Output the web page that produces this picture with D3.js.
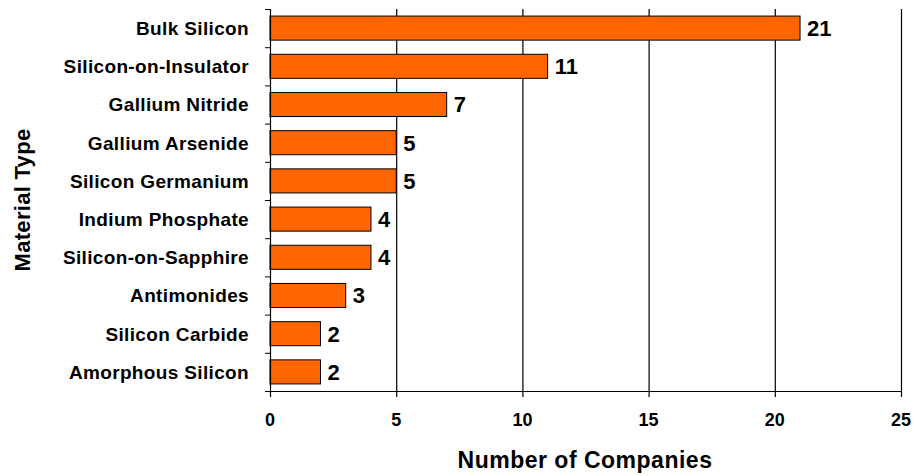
<!DOCTYPE html>
<html><head><meta charset="utf-8">
<script src="https://cdn.jsdelivr.net/npm/d3@7"></script>
<style>body{margin:0;background:#fff}svg{display:block}text{font-family:"Liberation Sans",Arial,sans-serif;font-weight:bold;fill:#000}</style>
</head><body>
<svg id="c" width="914" height="476"></svg>
<script>
const categories = ["Bulk Silicon","Silicon-on-Insulator","Gallium Nitride","Gallium Arsenide","Silicon Germanium","Indium Phosphate","Silicon-on-Sapphire","Antimonides","Silicon Carbide","Amorphous Silicon"];
const values = [21,11,7,5,5,4,4,3,2,2];
const xTicks = [0,5,10,15,20,25];

const svg = d3.select("#c");
const L = 270, R = 901, T = 9, B = 391;
const x = d3.scaleLinear().domain([0,25]).range([L,R]);
const y = d3.scaleBand().domain(categories).range([T,B]).paddingInner(0.37).paddingOuter(0.185);

// gridlines
svg.append("g").selectAll("line").data(xTicks.slice(1)).join("line")
  .attr("x1",d=>x(d)+0.5).attr("x2",d=>x(d)+0.5).attr("y1",T).attr("y2",B)
  .attr("stroke","#000").attr("stroke-width",1.2);

// bars
svg.append("g").selectAll("rect").data(values).join("rect")
  .attr("x",x(0)).attr("y",(d,i)=>y(categories[i]))
  .attr("width",d=>x(d)-x(0)).attr("height",y.bandwidth())
  .attr("fill","#FF6600").attr("stroke","#000").attr("stroke-width",1);

// value labels
svg.append("g").selectAll("text").data(values).join("text")
  .attr("x",d=>x(d)+7).attr("y",(d,i)=>y(categories[i])+y.bandwidth()/2)
  .attr("dy","0.36em").attr("font-size",22).text(d=>d);

// y axis
const yb = d3.scaleLinear().domain([0,categories.length]).range([T,B]);
const ya = svg.append("g");
ya.append("line").attr("x1",L+0.5).attr("x2",L+0.5).attr("y1",T).attr("y2",B).attr("stroke","#000").attr("stroke-width",1.2);
ya.selectAll("line.t").data(d3.range(categories.length+1)).join("line").attr("class","t")
  .attr("x1",L-5).attr("x2",L).attr("y1",d=>yb(d)+0.5).attr("y2",d=>yb(d)+0.5).attr("stroke","#000");
ya.selectAll("text").data(categories).join("text")
  .attr("x",249).attr("y",d=>y(d)+y.bandwidth()/2).attr("dy","0.36em")
  .attr("text-anchor","end").attr("font-size",19).attr("letter-spacing",0.35).text(d=>d);

// x axis
const xa = svg.append("g");
xa.append("line").attr("x1",L).attr("x2",R+1).attr("y1",B+0.5).attr("y2",B+0.5).attr("stroke","#000").attr("stroke-width",1.2);
xa.selectAll("line.t").data(xTicks).join("line").attr("class","t")
  .attr("x1",d=>x(d)+0.5).attr("x2",d=>x(d)+0.5).attr("y1",B).attr("y2",B+6).attr("stroke","#000").attr("stroke-width",1.2);
xa.selectAll("text").data(xTicks).join("text")
  .attr("x",d=>x(d)).attr("y",426).attr("text-anchor","middle").attr("font-size",18).text(d=>d);

svg.append("text").attr("x",585).attr("y",468).attr("text-anchor","middle").attr("font-size",23).attr("letter-spacing",0.5).text("Number of Companies");
svg.append("text").attr("transform","translate(30,200) rotate(-90)").attr("text-anchor","middle").attr("font-size",22).attr("letter-spacing",0.3).text("Material Type");
</script>
</body></html>
